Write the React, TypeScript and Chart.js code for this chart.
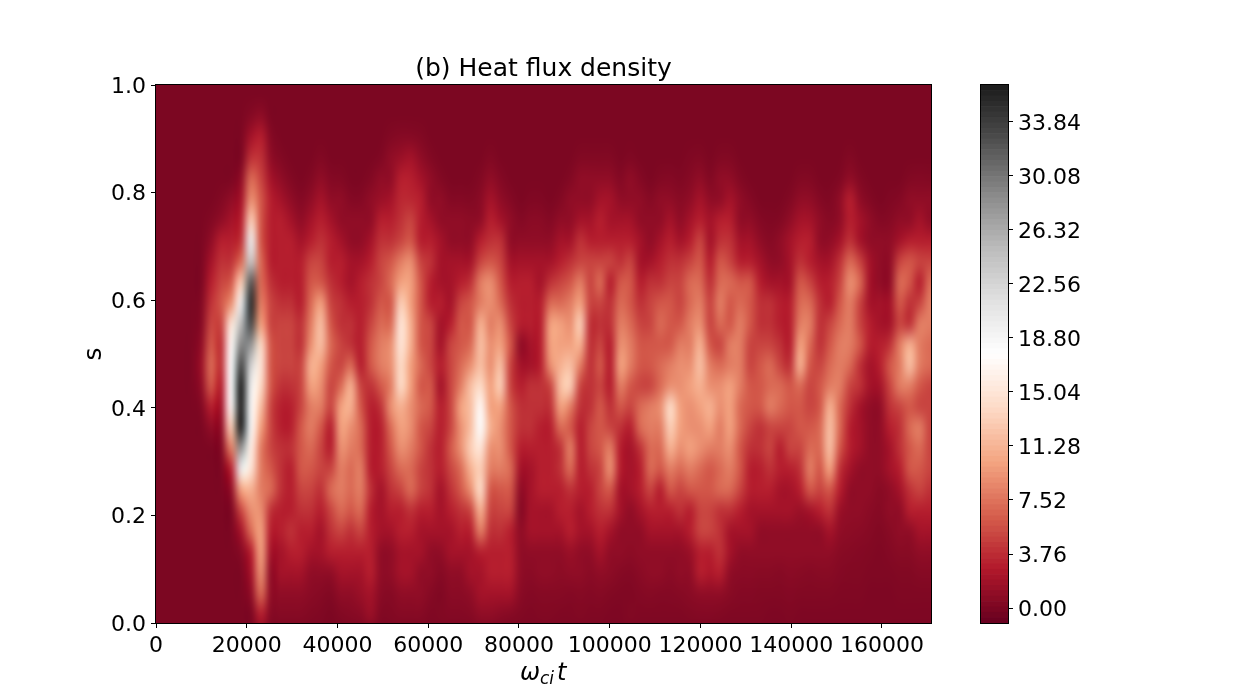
import React, { useEffect, useRef } from "react";
import { Chart, registerables } from "chart.js";
Chart.register(...registerables);

const c01 = [0,0,0,0,0,0,0,0,0,0,0,0,0,0,0,0,0,0,0,0,0,0,0,0,0,0,0];
const c02 = [0,0,0,0,0,0,0,0,0,0,0,0,0,0,0,0,0,0,0,0,0,0,0,0,0,0,0];
const c03 = [0,0,0,0,0,0,0,0,0,0,0,0,0,0,0,0,0,0,0,0,0,0,0,0,0,0,0];
const c04 = [0,0,0,0,0,0,0,0,0,0,0,0,0,0,0,0,0,0,0,0,0,0,0,0,0,0,0];
const c05 = [0,0,0,0,0,0,0,0,0,0,0.3,0.5,1,1.5,1,0.3,0,0,0,0,0,0,0,0,0,0,0];
const c06 = [0,0,0,0,0,0,0.3,1,2,3,4,5,6,7,6,3,1,0,0,0,0,0,0,0,0,0,0];
const c07 = [0,0,0,0,0,0.3,1,3,4,5,6,5,4,4,3,2,1,0.3,0,0,0,0,0,0,0,0,0];
const c08 = [0,0,0,0,0,1,2,3,4,6,9,15,17,18,18,17,13,8,3,1,0,0,0,0,0,0,0];
const c09 = [0,0,0,0,1,2,3,4,7,13,20,25,29,33,36,36,36,28,20,10,5,2,0.5,0,0,0,0];
const c10 = [0,0.5,2,4,7,9,13,20,24,32,35,33,28,23,20,19,19,16,15,11,9,7,3,2,1,0,0];
const c11 = [0,1,3,4,5,6,6,6,7,7,8,10,14,15,14,12,10,8,8,8,9,10,10,9,7,3,1];
const c12 = [0,0,0.5,1,2,3,3,3,3,4,5,5,6,6,6,5,5,5,6,7,4,3,2,1,1,0.5,0];
const c13 = [0,0,0,0.3,1,2,3,3,3,3,4,5,5,5,4,3,3,4,4,4,3,3,2,2,1,0.5,0];
const c14 = [0,0,0,0,0.3,1,2,3,3,3,4,5,5,5,4,3,3,4,3,3,3,4,3,2,1,0.5,0];
const c15 = [0,0,0,0,0,0.4,1,2,3,3,3,4,4,5,5,5,6,6,6,5,4,3,3,2,1,0.5,0];
const c16 = [0,0,0,0,0.3,1,2,3,5,6,7,8,9,11,10,8,8,7,6,5,4,3,2,1,0.7,0.3,0];
const c17 = [0,0,0,0.3,1,2,3,4,5,6,10,12,12,10,9,8,6,5,5,4,3,2,2,1,0.5,0.2,0];
const c18 = [0,0,0,0,0.4,1,2,3,3,4,5,6,7,6,5,5,3,3,5,7,5,4,3,1,0.3,0,0];
const c19 = [0,0,0,0,0.3,1,1,2,3,3,4,4,5,5,7,10,10,9,8,8,7,5,3,2,1,0.3,0];
const c20 = [0,0,0,0,0,0.4,1,1,2,2,3,4,4,7,11,11,9,8,7,7,6,4,3,2,1,0.5,0];
const c21 = [0,0,0,0,0,0.4,1,1,2,3,3,3,3,3,5,6,7,7,8,8,7,5,3,2,1.5,0.7,0];
const c22 = [0,0,0,0,0.3,1,1,2,3,4,4,5,6,6,4,3,3,3,3,4,3,3,3,3,2,1.5,0];
const c23 = [0,0,0,0.2,1,1.5,3,4,5,5,6,7,8,8,6,4,3,3,3,2,2,2,1,1,0.7,0.3,0];
const c24 = [0,0,0.3,1,1,2,3,4,6,7,6,7,9,9,8,9,7,6,5,4,3,2,1,1,0.5,0.3,0];
const c25 = [0,0,0.5,1.5,3,3.5,4,5,8,10,13,15,15,14,14,11,10,9,7,5,3,3,2,2,1,0.5,0];
const c26 = [0,0,0.5,2,3,3.5,5,6,9,10,10,11,11,10,10,9,9,8,7,7,4,3,2,2,1,0.5,0];
const c27 = [0,0,0.3,1,2,3,3,3,5,6,6,6,6,7,6,7,6,6,5,5,3,2,2,1,1,0.5,0];
const c28 = [0,0,0,0.3,1,1,2,3,4,3,3,5,5,5,6,6,5,4,4,4,3,2,1,1,0.5,0.2,0];
const c29 = [0,0,0,0,0.3,1,1,2,2,2,3,2,2,3,2,3,3,3,3,2,2,2,1,0.5,0.2,0.3,0];
const c30 = [0,0,0,0,0,0.4,1,1,2,2,2,3,5,5,5,5,5,6,5,4,3,2,2,1,0.7,0.4,0];
const c31 = [0,0,0,0,0,0.4,1,1,2,3,5,6,6,7,8,10,9,9,7,6,4,3,2,1,0.7,0.4,0];
const c32 = [0,0,0,0,0,0.3,0.8,1,2,4,6,6,7,9,12,12,12,13,11,9,5,3,2,2,1,0.5,0];
const c33 = [0,0,0,0,0.3,0.7,1,3,5,8,8,11,12,12,14,17,18,15,13,14,11,8,3,2,2,1,0];
const c34 = [0,0,0,0.3,1,2,3,4,6,9,9,8,9,9,10,10,11,9,8,6,5,4,3,3,2,1,0];
const c35 = [0,0,0,0,0.4,1,2,4,5,6,7,9,10,12,13,10,9,9,8,6,5,4,3,3,2,0.7,0];
const c36 = [0,0,0,0,0,0.4,1,1,2,3,4,5,6,5,5,6,6,6,7,6,5,3,3,3,2,0.5,0];
const c37 = [0,0,0,0,0,0,0.4,1,2,3,3,3,1,2,3,4,4,3,2,1,0.5,1,1,1,0.7,0.3,0];
const c38 = [0,0,0,0,0,0.2,0.7,1,2,3,3,3,2,2,4,4,4,3,2,2,2,2,1,0.7,0.4,0.2,0];
const c39 = [0,0,0,0,0,0.2,0.7,1,2,2,3,3,3,3,4,4,3,3,3,3,2,2,1,1,0.5,0.3,0];
const c40 = [0,0,0,0,0,0,0.4,1,2,4,7,10,10,9,5,4,3,3,3,3,2,2,1,1,0.5,0.3,0];
const c41 = [0,0,0,0,0,0.3,1,2,3,5,7,10,10,11,12,10,7,4,4,3,3,2,1,0.8,0.5,0.2,0];
const c42 = [0,0,0,0,0.3,1,1,2,4,6,8,9,10,12,13,8,6,8,7,4,3,3,1.5,1,0.4,0.2,0];
const c43 = [0,0,0,0.3,1,1,2,4,5,8,10,13,11,8,5,4,3,3,3,3,2,2,1,1,0.5,0.3,0];
const c44 = [0,0,0,0.3,1,1,2,3,5,5,5,4,4,4,4,4,5,5,4,3,3,2,1,0.7,0.4,0.2,0];
const c45 = [0,0,0,0.3,1,2,3,3,5,7,5,4,5,6,5,6,6,6,5,5,4,3,2,1,0.5,0.2,0];
const c46 = [0,0,0,0.3,1,2,2,3,5,3,4,4,3,3,3,4,5,8,9,6,4,2,1,0.8,0.3,0.1,0];
const c47 = [0,0,0,0,0.4,1,2,3,4,6,7,8,9,10,8,6,4,3,3,2,2,1,1,0.5,0.2,0.1,0];
const c48 = [0,0,0,0.2,1,1,2,3,5,6,6,7,8,8,6,5,3,2,2,2,1,1,0.8,0.4,0.2,0.3,0];
const c49 = [0,0,0,0,0.4,1,1,2,2,3,4,5,6,6,5,7,7,4,3,3,2,1,1,0.7,0.4,0.2,0];
const c50 = [0,0,0,0,0,0.5,1,1,2,4,5,5,6,6,5,8,8,7,7,5,3,2,1,1,0.5,0.2,0];
const c51 = [0,0,0,0,0.3,1,1,2,3,4,6,7,6,7,7,9,8,7,6,3,3,2,1,1,0.4,0.2,0];
const c52 = [0,0,0,0,0.4,1,2,3,4,5,6,6,6,8,9,14,13,11,8,6,3,2,1,0.7,0.4,0.2,0];
const c53 = [0,0,0,0,0.2,0.6,1,2,4,5,5,6,8,9,9,10,10,9,7,5,4,2,1,1,0.5,0.2,0];
const c54 = [0,0,0,0.2,0.5,1,2,3,5,7,7,8,8,9,10,9,9,10,8,6,3,3,1.5,1,0.7,0.3,0];
const c55 = [0,0,0,0.3,1,2,3,5,6,7,8,9,11,12,11,10,9,9,7,6,5,5,3,3,1,0.4,0];
const c56 = [0,0,0,0,0.3,1,2,2,3,4,5,5,6,8,9,11,10,8,6,6,5,5,3,2.5,1,0.4,0];
const c57 = [0,0,0,0.3,1,1,3,4,6,7,8,7,5,7,9,9,8,8,7,7,4,4,4,3,1,0.3,0];
const c58 = [0,0,0,0.3,1,2,3,4,5,7,6,6,8,8,10,10,10,9,8,7,4,2,2,1,0.6,0.2,0];
const c59 = [0,0,0,0,0.3,1,1,2,3,6,7,8,8,8,8,7,7,6,6,5,3,2,1,0.7,0.4,0.2,0];
const c60 = [0,0,0,0,0,0.4,1,2,3,6,6,6,5,5,6,6,5,4,3,3,2,2,1,0.7,0.4,0.2,0];
const c61 = [0,0,0,0,0,0,0.4,1,2,3,4,4,5,6,6,6,4,4,3,3,2,1,1,0.6,0.3,0.2,0];
const c62 = [0,0,0,0,0,0,0.2,0.5,1,2,4,4,5,7,7,8,5,5,4,3,2,1,1,0.6,0.3,0.1,0];
const c63 = [0,0,0,0,0,0,0.3,1,1,2,3,3,4,5,7,7,5,3,3,2,2,1,1,0.5,0.3,0.1,0];
const c64 = [0,0,0,0,0,0.3,1,2,2,2,3,3,3,4,6,6,5,5,3,2,2,1,1,0.7,0.4,0.2,0];
const c65 = [0,0,0,0,0.3,1,2,3,4,6,7,8,10,11,7,6,6,5,4,3,1.5,1,1,0.6,0.3,0.1,0];
const c66 = [0,0,0,0,0.3,1,2,3,3,5,7,8,7,6,5,5,6,7,8,6,2,1,1,0.5,0.3,0.1,0];
const c67 = [0,0,0,0,0,0.4,1,1,2,3,4,4,4,5,6,6,7,7,6,5,3,1,1,0.6,0.3,0.1,0];
const c68 = [0,0,0,0,0,0.2,0.5,1,2,3,3,5,6,7,8,11,12,12,10,6,4,2,1,0.6,0.3,0.1,0];
const c69 = [0,0,0,0,0.2,1,1,2,4,5,6,7,8,8,8,7,7,6,4,3,1.5,1,0.6,0.4,0.2,0.1,0];
const c70 = [0,0,0,0.3,1,3,3,4,7,9,8,8,8,7,5,4,3,3,2,1,1,0.8,0.5,0.3,0.2,0.1,0];
const c71 = [0,0,0,0,0.3,1,2,2,5,7,5,5,6,4,4,2,2,2,1,1,1,0.7,0.4,0.3,0.2,0.1,0];
const c72 = [0,0,0,0,0,0.3,1,1,2,2,2,3,3,2,2,1,1,1,1,1,0.7,0.5,0.3,0.2,0.1,0.1,0];
const c73 = [0,0,0,0,0,0,0.4,1,1,1,2,2,3,3,2,1,1,1,1,0.6,0.5,0.3,0.2,0.2,0.1,0.1,0];
const c74 = [0,0,0,0,0,0.2,0.5,1,1,1,2,2,4,6,5,4,3,2,2,1,1,0.6,0.4,0.2,0.1,0.1,0];
const c75 = [0,0,0,0,0,0.4,1,2,5,7,6,5,8,8,8,5,4,4,3,2,1,1,0.6,0.3,0.2,0.1,0];
const c76 = [0,0,0,0,0.3,1,1,3,6,6,4,4,11,12,8,6,7,6,6,4,3,1,0.6,0.3,0.2,0.1,0];
const c77 = [0,0,0,0,0.4,1,2,3,5,3,5,8,8,8,6,5,8,7,6,5,3,2,1,0.5,0.2,0.1,0];
const c78 = [0,0,0,0,0.3,1,1,3,5,7,8,8,7,7,5,5,5,5,5,4,3,2,1,0.5,0.2,0.1,0];
const columns = [c01,c02,c03,c04,c05,c06,c07,c08,c09,c10,c11,c12,c13,c14,c15,c16,c17,c18,c19,c20,c21,c22,c23,c24,c25,c26,c27,c28,c29,c30,c31,c32,c33,c34,c35,c36,c37,c38,c39,c40,c41,c42,c43,c44,c45,c46,c47,c48,c49,c50,c51,c52,c53,c54,c55,c56,c57,c58,c59,c60,c61,c62,c63,c64,c65,c66,c67,c68,c69,c70,c71,c72,c73,c74,c75,c76,c77,c78];

const T_STEP = 2200;
const S_STEP = 0.03855;
const S_TOP = 0.98;
const T_MAX = 170800;
const cbarTicks = [0, 3.76, 7.52, 11.28, 15.04, 18.8, 22.56, 26.32, 30.08, 33.84];
const xTicks = [0, 20000, 40000, 60000, 80000, 100000, 120000, 140000, 160000];
const V_MIN = -1.04;
const V_MAX = 36.4;
const rdgy = ["#67001f","#b2182b","#d6604d","#f4a582","#fddbc7","#ffffff","#e0e0e0","#bababa","#878787","#4d4d4d","#1a1a1a"];

const hex = (h: string) => [1, 3, 5].map((i) => parseInt(h.slice(i, i + 2), 16));
function colorOf(v: number) {
  const t = Math.max(0, Math.min(1, (v - V_MIN) / (V_MAX - V_MIN))) * (rdgy.length - 1);
  const i = Math.min(rdgy.length - 2, Math.floor(t));
  const a = hex(rdgy[i]), b = hex(rdgy[i + 1]), f = t - i;
  return `rgb(${a.map((x, k) => Math.round(x + (b[k] - x) * f)).join(",")})`;
}

const cells = columns.flatMap((col, j) =>
  col.map((v, k) => ({ x: (j + 0.5) * T_STEP, y: S_TOP - k * S_STEP, v }))
);

const FONT = "'DejaVu Sans'";

// Matplotlib centres digits on the tick; canvas "middle" sits about 2px higher.
const nudgeLabelsPlugin = {
  id: "nudgeLabels",
  beforeDraw(chart: any) {
    const items = chart.scales.y.getLabelItems();
    if (chart.$nudged === items) return;
    chart.$nudged = items;
    items.forEach((it: any) => { it.options.translation = [it.options.translation[0], it.options.translation[1] + 2]; });
  },
};

const heatPlugin = {
  id: "heat",
  beforeDatasetsDraw(chart: any) {
    const { ctx, chartArea: a, scales } = chart;
    const pts = chart.data.datasets[0].data;
    const nRows = c01.length, nCols = columns.length;
    const off = document.createElement("canvas");
    off.width = nCols; off.height = nRows;
    const o = off.getContext("2d")!;
    pts.forEach((p: any, n: number) => {
      o.fillStyle = colorOf(p.v);
      o.fillRect(Math.floor(n / nRows), n % nRows, 1, 1);
    });
    const x0 = scales.x.getPixelForValue(0);
    const x1 = scales.x.getPixelForValue(nCols * T_STEP);
    const y0 = scales.y.getPixelForValue(S_TOP + S_STEP / 2);
    const y1 = scales.y.getPixelForValue(S_TOP - (nRows - 0.5) * S_STEP);
    ctx.save();
    ctx.beginPath();
    ctx.rect(a.left, a.top, a.right - a.left, a.bottom - a.top);
    ctx.clip();
    ctx.fillStyle = colorOf(0.1);
    ctx.fillRect(a.left, a.top, a.right - a.left, a.bottom - a.top);
    ctx.imageSmoothingEnabled = true;
    (ctx as any).imageSmoothingQuality = "high";
    ctx.drawImage(off, x0, y0, x1 - x0, y1 - y0);
    ctx.restore();
  },
  afterDraw(chart: any) {
    const { ctx, chartArea: a } = chart;
    ctx.save();
    ctx.strokeStyle = "#000";
    ctx.lineWidth = 1;
    ctx.strokeRect(a.left - 0.5, a.top - 0.5, a.right - a.left + 1, a.bottom - a.top + 1);
    ctx.fillStyle = "#000";
    ctx.textBaseline = "alphabetic";
    ctx.textAlign = "left";
    ctx.font = `italic 24px ${FONT}`;
    ctx.fillText("ω", 520, 680);
    ctx.font = `italic 17px ${FONT}`;
    ctx.fillText("ci", 540, 684);
    ctx.font = `italic 24px ${FONT}`;
    ctx.fillText("t", 557, 680);
    ctx.restore();
  },
};

const framePlugin = {
  id: "frame",
  afterDraw(chart: any) {
    const { ctx, chartArea: a } = chart;
    ctx.save();
    ctx.strokeStyle = "#000";
    ctx.lineWidth = 1;
    ctx.strokeRect(a.left - 0.5, a.top - 0.5, a.right - a.left + 1, a.bottom - a.top + 1);
    ctx.restore();
  },
};

const tickFont = { family: FONT, size: 22 };

export default function App() {
  const mainRef = useRef<HTMLCanvasElement>(null);
  const barRef = useRef<HTMLCanvasElement>(null);
  useEffect(() => {
    document.body.style.margin = "0";
    const main = new Chart(mainRef.current!, {
      type: "scatter",
      data: { datasets: [{ label: "Heat flux density", data: cells, pointRadius: 0, pointHoverRadius: 0 }] as any },
      plugins: [heatPlugin, nudgeLabelsPlugin],
      options: {
        responsive: false,
        animation: false,
        layout: { padding: { left: 0, right: 319, top: 0, bottom: 0 } },
        events: [],
        plugins: {
          legend: { display: false },
          tooltip: { enabled: false },
          title: {
            display: true,
            text: "(b) Heat flux density",
            color: "#000",
            fullSize: false,
            font: { family: FONT, size: 25, weight: "normal" },
            padding: { top: 54, bottom: 1 },
          },
        },
        scales: {
          x: {
            type: "linear",
            min: 0,
            max: T_MAX,
            afterBuildTicks: (s: any) => { s.ticks = xTicks.map((value) => ({ value })); },
            afterFit: (s: any) => { s.height = 77; },
            grid: { drawOnChartArea: false, color: "#000", tickLength: 5, tickColor: "#000" },
            border: { display: true, color: "#000" },
            ticks: { color: "#000", font: tickFont, maxRotation: 0, padding: 5, autoSkip: false, callback: (v: any) => String(v) },
          },
          y: {
            type: "linear",
            min: 0,
            max: 1,
            afterFit: (s: any) => { s.width = 156; },
            grid: { drawOnChartArea: false, color: "#000", tickLength: 5, tickColor: "#000" },
            border: { display: true, color: "#000" },
            title: { display: true, text: "s", color: "#000", font: { family: FONT, size: 25 }, padding: { top: 79, bottom: 0 } },
            ticks: { color: "#000", font: tickFont, stepSize: 0.2, padding: 5, callback: (v: any) => Number(v).toFixed(1) },
          },
        },
      } as any,
    });

    const nBands = 100;
    const bandH = (V_MAX - V_MIN) / nBands;
    const bands = Array.from({ length: nBands }, (_, i) => V_MIN + i * bandH);
    const bar = new Chart(barRef.current!, {
      type: "bar",
      data: {
        labels: ["colorbar"],
        datasets: bands.map((lo) => ({
          data: [[lo, lo + bandH]],
          backgroundColor: colorOf(lo + bandH / 2),
          borderWidth: 0,
          barPercentage: 1,
          categoryPercentage: 1,
          grouped: false,
        })) as any,
      },
      plugins: [framePlugin, nudgeLabelsPlugin],
      options: {
        responsive: false,
        animation: false,
        events: [],
        layout: { padding: { left: 2, right: 0, top: 85, bottom: 77 } },
        plugins: { legend: { display: false }, tooltip: { enabled: false } },
        scales: {
          x: { display: false, grid: { display: false } },
          y: {
            type: "linear",
            position: "right",
            min: V_MIN,
            max: V_MAX,
            afterBuildTicks: (s: any) => { s.ticks = cbarTicks.map((value) => ({ value })); },
            afterFit: (s: any) => { s.width = 120; },
            grid: { drawOnChartArea: false, color: "#000", tickLength: 5, tickColor: "#000" },
            border: { display: true, color: "#000" },
            ticks: { color: "#000", font: tickFont, padding: 5, callback: (v: any) => Number(v).toFixed(2) },
          },
        },
      } as any,
    });
    return () => { main.destroy(); bar.destroy(); };
  }, []);
  return (
    <div style={{ position: "absolute", left: 0, top: 0, width: 1250, height: 700, background: "#fff" }}>
      <canvas ref={mainRef} width={1250} height={700} style={{ position: "absolute", left: 0, top: 0, width: 1250, height: 700 }} />
      <canvas ref={barRef} width={149} height={700} style={{ position: "absolute", left: 979, top: 0, width: 149, height: 700 }} />
    </div>
  );
}
